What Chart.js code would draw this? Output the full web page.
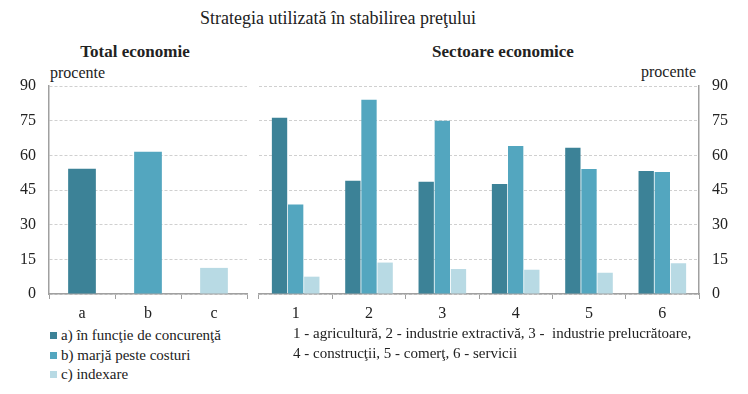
<!DOCTYPE html>
<html>
<head>
<meta charset="utf-8">
<script src="https://cdn.jsdelivr.net/npm/chart.js@4"></script>
<style>
  body { margin: 0; background: #fff; color: #222; }
  #wrap { position: relative; width: 748px; height: 394px; overflow: hidden; font-family: 'Liberation Serif'; }
  .t { position: absolute; white-space: nowrap; line-height: 20px; font-family: 'Liberation Serif'; }
  canvas { position: absolute; }
  .sq { display: inline-block; width: 7px; height: 7px; margin-right: 4px; vertical-align: 1px; }
</style>
</head>
<body>
<div id="wrap">
  <div class="t" style="left:0;width:676px;text-align:center;top:8px;font-size:18px;">Strategia utilizată în stabilirea preţului</div>
  <div class="t" style="left:35px;width:200px;text-align:center;top:42px;font-size:17px;font-weight:bold;">Total economie</div>
  <div class="t" style="left:403px;width:200px;text-align:center;top:42px;font-size:17px;font-weight:bold;">Sectoare economice</div>
  <div class="t" style="left:50px;top:63px;font-size:16px;">procente</div>
  <div class="t" style="left:641px;top:62px;font-size:16px;">procente</div>

  <div style="position:absolute;left:0;top:60px;width:260px;height:260px;"><canvas id="leftChart"></canvas></div>
  <div style="position:absolute;left:250px;top:60px;width:498px;height:260px;"><canvas id="rightChart"></canvas></div>

  <div class="t" style="left:50px;top:325px;font-size:15px;"><span class="sq" style="background:#3c8297"></span>a) în funcţie de concurenţă</div>
  <div class="t" style="left:50px;top:345px;font-size:15px;"><span class="sq" style="background:#53a6bf"></span>b) marjă peste costuri</div>
  <div class="t" style="left:50px;top:364px;font-size:15px;"><span class="sq" style="background:#b8dae4"></span>c) indexare</div>
  <div class="t" style="left:293px;top:323px;font-size:15px;">1 - agricultură, 2 - industrie extractivă, 3 -&nbsp; industrie prelucrătoare,</div>
  <div class="t" style="left:293px;top:343px;font-size:15px;">4 - construcţii, 5 - comerţ, 6 - servicii</div>
</div>

<script>
  const totalLabels = ["a", "b", "c"];
  const totalValues = [54.2, 61.5, 11.3];

  const sectorLabels = ["1", "2", "3", "4", "5", "6"];
  const concurenta = [76.3, 49.0, 48.6, 47.6, 63.3, 53.2];
  const marja = [38.7, 84.1, 75.0, 64.0, 54.1, 52.8];
  const indexare = [7.5, 13.6, 10.8, 10.5, 9.2, 13.3];

  const yMin = 0, yMax = 90, yStep = 15;

  const colors = ["#3c8297", "#53a6bf", "#b8dae4"];
  const tickFont = { family: "'Liberation Serif'", size: 16 };
  const axisGray = "#a0a0a0";
  const gridGray = "#d0d0d0";

  Chart.defaults.color = "#222";
  Chart.defaults.font.family = "'Liberation Serif'";
  Chart.defaults.animation = false;

  const xScale = {
    grid: { offset: true, drawOnChartArea: false, drawTicks: true, tickLength: 5, color: axisGray },
    border: { display: true, color: axisGray, width: 1.5 },
    ticks: { font: tickFont, padding: 5 },
    afterFit: s => { s.height = 26; },
  };

  function yScale(position) {
    return {
      position: position,
      min: yMin,
      max: yMax,
      ticks: { stepSize: yStep, font: tickFont, padding: 13 },
      grid: { color: gridGray, drawTicks: false },
      border: { display: true, color: axisGray, width: 1.5, dash: [3, 2] },
      afterFit: s => { s.width = 49; },
    };
  }

  // total economie
  new Chart(document.getElementById("leftChart"), {
    type: "bar",
    data: {
      labels: totalLabels,
      datasets: [{
        data: totalValues,
        backgroundColor: colors,
        categoryPercentage: 1,
        barPercentage: 0.42,
      }],
    },
    options: {
      responsive: true,
      maintainAspectRatio: false,
      layout: { padding: { top: 26, right: 13, left: 0, bottom: 0 } },
      plugins: { legend: { display: false }, tooltip: { enabled: false } },
      scales: { x: xScale, y: yScale("left") },
    },
  });

  // sectoare economice
  new Chart(document.getElementById("rightChart"), {
    type: "bar",
    data: {
      labels: sectorLabels,
      datasets: [
        { label: "a) în funcţie de concurenţă", data: concurenta, backgroundColor: colors[0] },
        { label: "b) marjă peste costuri", data: marja, backgroundColor: colors[1] },
        { label: "c) indexare", data: indexare, backgroundColor: colors[2] },
      ],
    },
    options: {
      responsive: true,
      maintainAspectRatio: false,
      datasets: { bar: { categoryPercentage: 0.66, barPercentage: 0.95 } },
      layout: { padding: { top: 26, right: 0, left: 9, bottom: 0 } },
      plugins: { legend: { display: false }, tooltip: { enabled: false } },
      scales: { x: xScale, y: yScale("right") },
    },
  });
</script>
</body>
</html>
